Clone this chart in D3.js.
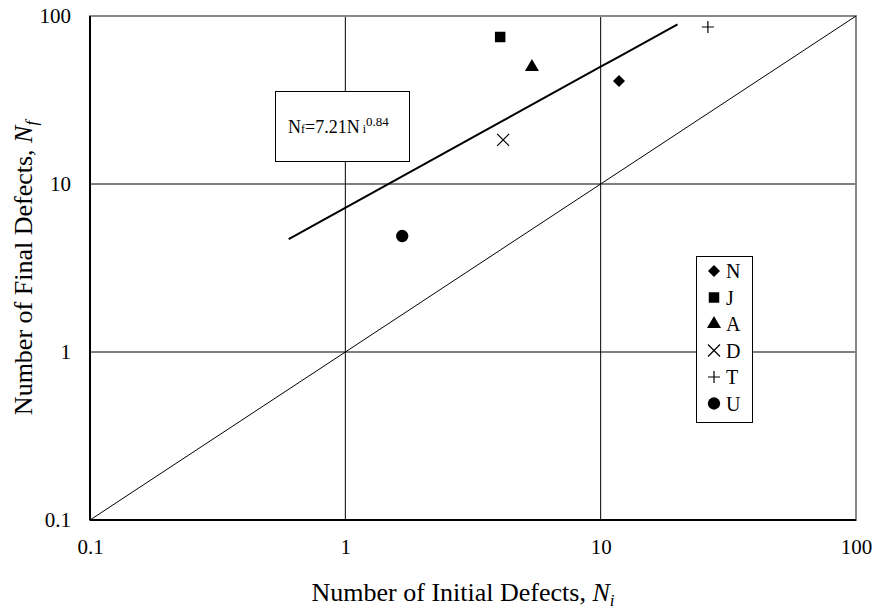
<!DOCTYPE html>
<html>
<head>
<meta charset="utf-8">
<script src="https://cdn.jsdelivr.net/npm/d3@7"></script>
<style>
  body { margin: 0; background: #fff; }
  text { font-family: "Liberation Serif", "Times New Roman", serif; fill: #000; }
</style>
</head>
<body>
<svg id="chart" width="875" height="614"></svg>
<script>
const width = 875, height = 614;

// data
const series = ['N', 'J', 'A', 'D', 'T', 'U'];
const initial = [11.8, 4.04, 5.38, 4.15, 26.3, 1.67];
const final = [41, 75, 49.7, 18.3, 86, 4.9];
const tickValues = [0.1, 1, 10, 100];
const tickLabels = ['0.1', '1', '10', '100'];
const fitA = 7.21, fitB = 0.84;
const fitRange = [0.6, 20];

const fig = {
  margin: {top: 16, right: 19, bottom: 94, left: 90}
};
fig.width = width - fig.margin.left - fig.margin.right;
fig.height = height - fig.margin.top - fig.margin.bottom;

const svg = d3.select('#chart');
const g = svg.append('g')
  .attr('transform', 'translate(' + fig.margin.left + ',' + fig.margin.top + ')');

const x = d3.scaleLog().domain([0.1, 100]).range([0, fig.width]);
const y = d3.scaleLog().domain([0.1, 100]).range([fig.height, 0]);

// grid
g.selectAll('.vgrid')
  .data(tickValues)
  .join('line')
    .attr('x1', d => x(d)).attr('x2', d => x(d))
    .attr('y1', 0).attr('y2', fig.height)
    .attr('stroke', '#000').attr('stroke-width', 1);
g.selectAll('.hgrid')
  .data(tickValues)
  .join('line')
    .attr('y1', d => y(d)).attr('y2', d => y(d))
    .attr('x1', 0).attr('x2', fig.width)
    .attr('stroke', '#000').attr('stroke-width', 1);

// frame: grey on top/right, black axes
g.append('rect')
  .attr('width', fig.width).attr('height', fig.height)
  .attr('fill', 'none').attr('stroke', '#888').attr('stroke-width', 2);
g.append('line').attr('x1', 0).attr('x2', 0).attr('y1', 0).attr('y2', fig.height)
  .attr('stroke', '#000').attr('stroke-width', 2);
g.append('line').attr('x1', 0).attr('x2', fig.width).attr('y1', fig.height).attr('y2', fig.height)
  .attr('stroke', '#000').attr('stroke-width', 2);

// 1:1 line
g.append('line')
  .attr('x1', x(0.1)).attr('y1', y(0.1))
  .attr('x2', x(100)).attr('y2', y(100))
  .attr('stroke', '#000').attr('stroke-width', 1);

// power fit
const fitPts = d3.range(0, 21).map(i => {
  const xv = Math.exp(Math.log(fitRange[0]) + i / 20 * (Math.log(fitRange[1]) - Math.log(fitRange[0])));
  return [xv, fitA * Math.pow(xv, fitB)];
});
g.append('path')
  .datum(fitPts)
  .attr('d', d3.line().x(d => x(d[0])).y(d => y(d[1])))
  .attr('fill', 'none').attr('stroke', '#000').attr('stroke-width', 2);

// axis tick labels
const xAxis = d3.axisBottom(x).tickValues(tickValues).tickFormat((d, i) => tickLabels[i]).tickSize(0).tickPadding(19);
const yAxis = d3.axisLeft(y).tickValues(tickValues).tickFormat((d, i) => tickLabels[i]).tickSize(0).tickPadding(19);
g.append('g').attr('transform', 'translate(0,' + fig.height + ')').call(xAxis)
  .call(a => a.select('.domain').remove())
  .selectAll('text').style('font-size', '21px').style('font-family', '"Liberation Serif", serif');
g.append('g').call(yAxis)
  .call(a => a.select('.domain').remove())
  .selectAll('text').style('font-size', '21px').style('font-family', '"Liberation Serif", serif');

// markers
const sym = {
  J: d3.symbol(d3.symbolSquare, 110),
  A: d3.symbol(d3.symbolTriangle, 85),
  U: d3.symbol(d3.symbolCircle, 120)
};
function drawMarker(sel, name) {
  if (name === 'N') {
    sel.append('path').attr('d', 'M0,-6L6,0L0,6L-6,0Z').attr('fill', '#000');
  } else if (name === 'D') {
    sel.append('path').attr('d', 'M-6,-6L6,6M-6,6L6,-6')
      .attr('stroke', '#000').attr('stroke-width', 1.2).attr('fill', 'none');
  } else if (name === 'T') {
    sel.append('path').attr('d', 'M-6,0L6,0M0,-6L0,6')
      .attr('stroke', '#000').attr('stroke-width', 1.2).attr('fill', 'none');
  } else {
    sel.append('path').attr('d', sym[name]()).attr('fill', '#000');
  }
}
series.forEach((s, i) => {
  const m = g.append('g').attr('transform', 'translate(' + x(initial[i]) + ',' + y(final[i]) + ')');
  drawMarker(m, s);
});

// equation box
svg.append('rect')
  .attr('x', 275.5).attr('y', 91.5).attr('width', 134).attr('height', 70)
  .attr('fill', '#fff').attr('stroke', '#000').attr('stroke-width', 1);
const eq = svg.append('text').attr('x', 288).attr('y', 133).style('font-size', '18px');
eq.append('tspan').text('N');
eq.append('tspan').style('font-size', '12px').text('f');
eq.append('tspan').text('=7.21N');
eq.append('tspan').style('font-size', '12px').attr('dx', 3).text('i');
eq.append('tspan').style('font-size', '13px').attr('dy', -7).text('0.84');

// legend
const leg = svg.append('g').attr('transform', 'translate(696,256)');
leg.append('rect')
  .attr('x', 0.5).attr('y', 0.5).attr('width', 56).attr('height', 166)
  .attr('fill', '#fff').attr('stroke', '#000').attr('stroke-width', 1);
series.forEach((s, i) => {
  const row = leg.append('g').attr('transform', 'translate(0,' + (15 + i * 26.5) + ')');
  const m = row.append('g').attr('transform', 'translate(18,0)');
  drawMarker(m, s);
  row.append('text').attr('x', 30).attr('y', 7).style('font-size', '20px').text(s);
});

// axis titles
const xt = svg.append('text')
  .attr('x', fig.margin.left + fig.width / 2 - 10).attr('y', 601)
  .attr('text-anchor', 'middle').style('font-size', '26px');
xt.append('tspan').text('Number of Initial Defects, ');
xt.append('tspan').style('font-style', 'italic').text('N');
xt.append('tspan').style('font-style', 'italic').style('font-size', '17px').attr('dy', 5).text('i');

const yt = svg.append('text')
  .attr('transform', 'translate(32,' + (fig.margin.top + fig.height / 2) + ') rotate(-90)')
  .attr('text-anchor', 'middle').style('font-size', '26px');
yt.append('tspan').text('Number of Final Defects, ');
yt.append('tspan').style('font-style', 'italic').text('N');
yt.append('tspan').style('font-style', 'italic').style('font-size', '17px').attr('dy', 5).text('f');
</script>
</body>
</html>
